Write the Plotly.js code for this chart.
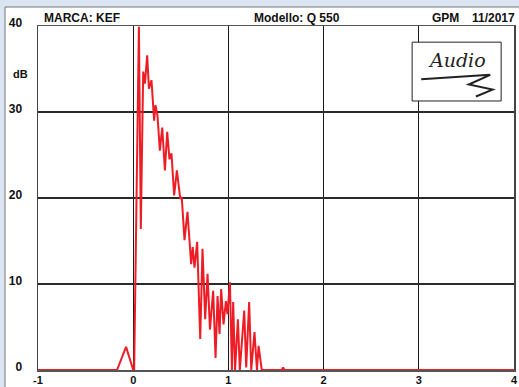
<!DOCTYPE html>
<html><head><meta charset="utf-8">
<script src="https://cdn.plot.ly/plotly-3.0.1.min.js"></script>
<style>html,body{margin:0;padding:0;background:#dbe5f1;}#chart{width:519px;height:387px;}</style>
</head><body><div id="chart"></div>
<script>
// Impulse/decay response, KEF Q 550
const timeMs = [-1, -0.17, -0.075, 0, 0.01, 0.06, 0.08, 0.105, 0.123, 0.147, 0.165, 0.192, 0.22, 0.234, 0.255, 0.28, 0.305, 0.333, 0.357, 0.381, 0.402, 0.43, 0.459, 0.494, 0.51, 0.539, 0.57, 0.585, 0.609, 0.625, 0.644, 0.672, 0.704, 0.728, 0.756, 0.781, 0.806, 0.84, 0.865, 0.886, 0.907, 0.924, 0.949, 0.974, 0.99, 1.016, 1.037, 1.05, 1.07, 1.1, 1.12, 1.166, 1.187, 1.218, 1.24, 1.274, 1.3, 1.317, 1.35, 1.56, 1.575, 1.59, 4];
const levelDb = [0, 0, 2.7, 0, 0, 39.9, 16.4, 34.7, 33.3, 36.6, 32.7, 33.7, 29.0, 30.8, 29.6, 25.5, 28.2, 23.2, 27.7, 24.5, 25.2, 20.3, 23.2, 19.9, 20.1, 15.1, 18.4, 16.0, 12.3, 14.3, 11.9, 14.9, 3.6, 14.1, 5.9, 11.2, 4.7, 9.2, 1.4, 8.6, 4.2, 9.4, 5.3, 8.0, 6.5, 10.2, 0, 7.9, 0, 5.9, 0, 6.9, 0.3, 7.9, 0, 4.4, 0, 2.8, 0, 0, 0.3, 0, 0];
const xTicks = [-1, 0, 1, 2, 3, 4];
const yTicks = [0, 10, 20, 30, 40];
const headerLeft = "MARCA: KEF";
const headerMid = "Modello: Q 550";
const headerRight1 = "GPM";
const headerRight2 = "11/2017";
const yUnit = "dB";

const font = "Liberation Sans, Arial, sans-serif";
const trace = {
  x: timeMs, y: levelDb, type: 'scatter', mode: 'lines',
  line: {color: '#ee1c25', width: 2}, hoverinfo: 'skip', cliponaxis: true
};
const layout = {
  width: 519, height: 387,
  margin: {l: 38, r: 5, t: 26, b: 17, pad: 0},
  paper_bgcolor: '#dbe5f1', plot_bgcolor: 'rgba(0,0,0,0)',
  showlegend: false,
  font: {family: font, size: 11, color: '#111'},
  xaxis: {
    range: [-1, 4], tickvals: xTicks, ticktext: xTicks.map(String),
    showgrid: true, gridcolor: '#1a1a1a', gridwidth: 1,
    zeroline: false, showline: true, linecolor: '#555', linewidth: 1.5, mirror: true,
    ticks: '', tickfont: {family: font, size: 11, color: '#111', weight: 'bold'},
    ticklabelstandoff: -1
  },
  yaxis: {
    range: [0, 40], tickvals: yTicks, ticktext: yTicks.map(String),
    showgrid: true, gridcolor: '#2a2a2a', gridwidth: 1.6,
    zeroline: false, showline: true, linecolor: '#444', linewidth: 1.5, mirror: true,
    ticks: '', tickfont: {family: font, size: 12, color: '#111', weight: 'bold'},
    ticklabelstandoff: 12, ticklabelshift: -3
  },
  shapes: [
    {type: 'rect', xref: 'paper', yref: 'paper', x0: -0.0693, x1: 1.03, y0: -0.08, y1: 1.0552,
     fillcolor: '#ffffff', line: {color: '#777', width: 1}, layer: 'below'},
    {type: 'rect', xref: 'paper', yref: 'paper', x0: 0.786, x1: 0.973, y0: 0.782, y1: 0.953,
     fillcolor: '#ffffff', line: {color: '#222', width: 1}, layer: 'above'},
    {type: 'path', xref: 'paper', yref: 'paper',
     path: 'M 0.805 0.845 L 0.95 0.858 L 0.905 0.83 L 0.955 0.815 L 0.92 0.795',
     line: {color: '#222', width: 2}, layer: 'above'}
  ],
  annotations: [
    {text: '<b>' + headerLeft + '</b>', xref: 'paper', yref: 'paper', x: 0.008, y: 1.023, xanchor: 'left', yanchor: 'middle', showarrow: false, font: {family: font, size: 12, color: '#111'}},
    {text: '<b>' + headerMid + '</b>', xref: 'paper', yref: 'paper', x: 0.544, y: 1.023, xanchor: 'center', yanchor: 'middle', showarrow: false, font: {family: font, size: 12, color: '#111'}},
    {text: '<b>' + headerRight1 + '</b>', xref: 'paper', yref: 'paper', x: 0.889, y: 1.023, xanchor: 'right', yanchor: 'middle', showarrow: false, font: {family: font, size: 12, color: '#111'}},
    {text: '<b>' + headerRight2 + '</b>', xref: 'paper', yref: 'paper', x: 1.006, y: 1.023, xanchor: 'right', yanchor: 'middle', showarrow: false, font: {family: font, size: 12, color: '#111'}},
    {text: '<b>' + yUnit + '</b>', xref: 'paper', yref: 'paper', x: -0.057, y: 0.86, xanchor: 'left', yanchor: 'middle', showarrow: false, font: {family: font, size: 11, color: '#111'}},
    {text: '<i>Audio</i>', xref: 'paper', yref: 'paper', x: 0.88, y: 0.9, xanchor: 'center', yanchor: 'middle', showarrow: false, font: {family: 'DejaVu Serif, serif', size: 19, color: '#222'}}
  ]
};
Plotly.newPlot('chart', [trace], layout, {displayModeBar: false, staticPlot: true});
</script></body></html>
